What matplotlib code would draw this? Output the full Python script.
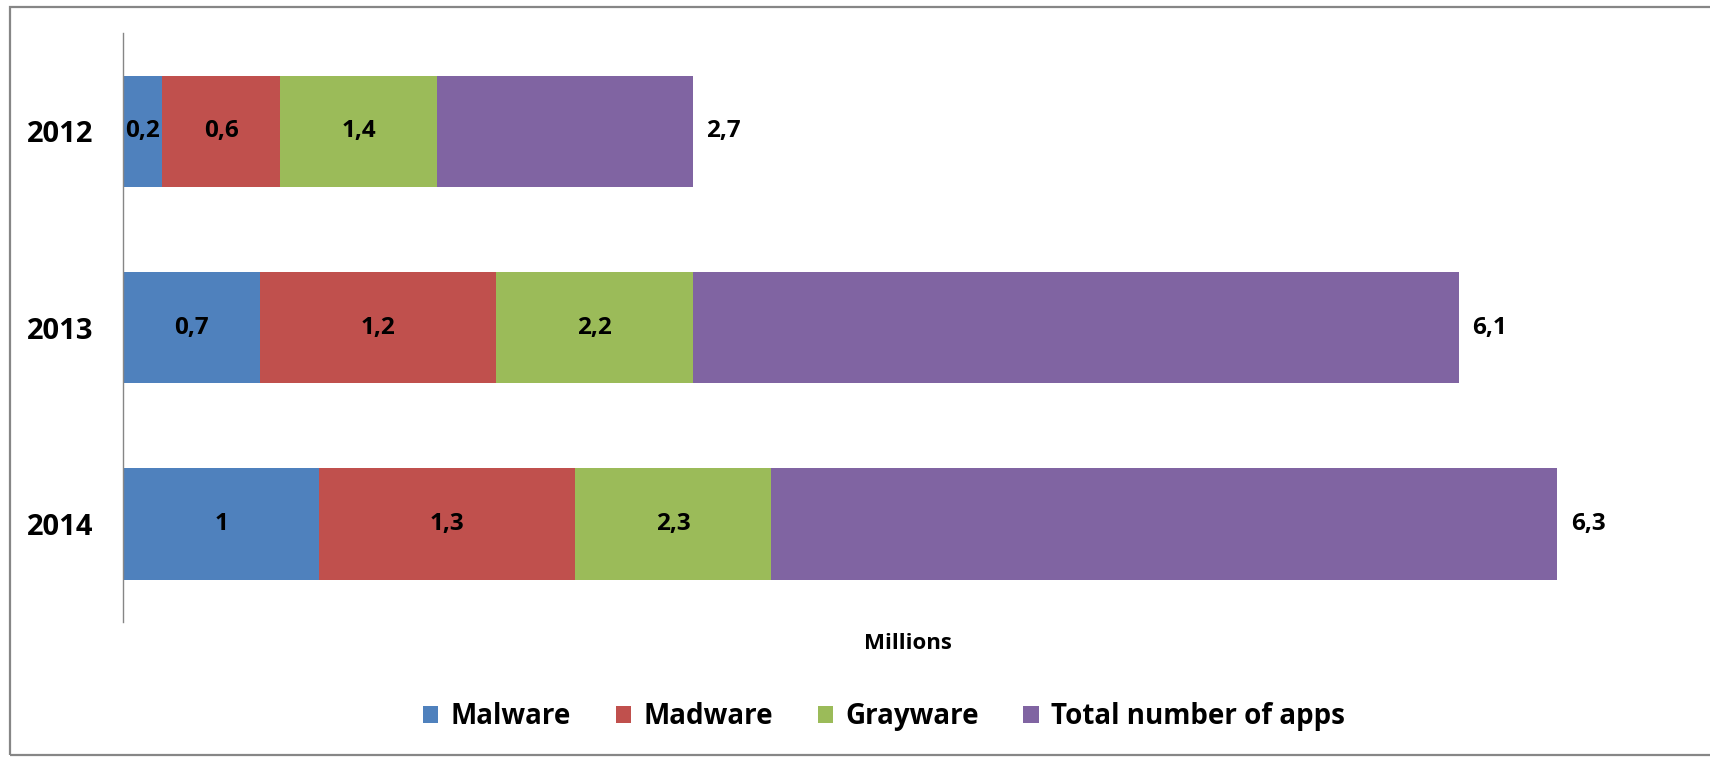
import matplotlib.pyplot as plt
import numpy as np
from matplotlib.patches import Rectangle

YEARS = ["2012", "2013", "2014"]
SERIES = ["Malware", "Madware", "Grayware", "Total number of apps"]
COLORS = ["#4F81BD", "#C0504D", "#9BBB59", "#8064A2"]

# values as printed on the chart (millions)
MALWARE = [0.2, 0.7, 1.0]
MADWARE = [0.6, 1.2, 1.3]
GRAYWARE = [1.4, 2.2, 2.3]
TOTAL = [2.7, 6.1, 6.3]


def fmt(v):
    return f"{v:g}".replace(".", ",")


def main():
    plt.rcParams.update({"font.family": ["Open Sans", "DejaVu Sans"], "font.weight": "bold"})

    fig = plt.figure(figsize=(17.10, 7.57), dpi=100)
    ax = fig.add_axes([0.0719, 0.178, 0.919, 0.778])

    malware = np.array(MALWARE)
    madware = np.array(MADWARE)
    grayware = np.array(GRAYWARE)
    total = np.array(TOTAL)
    # segment lengths: grayware includes madware, total includes grayware
    widths = [malware, madware, grayware - madware, total - grayware]
    labels = [MALWARE, MADWARE, GRAYWARE, TOTAL]

    y = np.arange(len(YEARS))
    left = np.zeros(len(YEARS))
    for i, (w, name, col) in enumerate(zip(widths, SERIES, COLORS)):
        ax.barh(y, w, left=left, height=0.567, color=col, label=name, linewidth=0)
        for yi, li, wi, lab in zip(y, left, w, labels[i]):
            if i < 3:
                ax.text(li + wi / 2, yi, fmt(lab), ha="center", va="center",
                        fontsize=17.5, fontweight="bold", color="black")
            else:
                ax.annotate(fmt(lab), (li + wi, yi), xytext=(10, 0),
                            textcoords="offset points", ha="left", va="center",
                            fontsize=17.5, fontweight="bold", color="black")
        left = left + w

    ax.set_xlim(0, 8)
    ax.set_ylim(2.5, -0.5)
    ax.set_yticks(y)
    ax.set_yticklabels(YEARS, fontsize=21, fontweight="bold")
    ax.tick_params(axis="y", length=0, pad=21)
    ax.set_xticks([])
    for side in ["top", "right", "bottom"]:
        ax.spines[side].set_visible(False)
    ax.spines["left"].set_color("#868686")
    ax.spines["left"].set_linewidth(1.0)

    fig.text(0.531, 0.150, "Millions", ha="center", va="center", fontsize=16, fontweight="bold")

    fig.legend(loc="center", bbox_to_anchor=(0.517, 0.053), ncol=4, frameon=False,
               handlelength=0.55, handleheight=0.55, handletextpad=0.45,
               columnspacing=1.6, prop={"weight": "bold", "size": 20})

    fig.patches.append(Rectangle((10 / 1710, 2 / 757), 1.05, 748 / 757, transform=fig.transFigure,
                                 fill=False, edgecolor="#868686", linewidth=1.6))

    fig.savefig("out.png", dpi=100)
    plt.close(fig)


if __name__ == "__main__":
    main()
